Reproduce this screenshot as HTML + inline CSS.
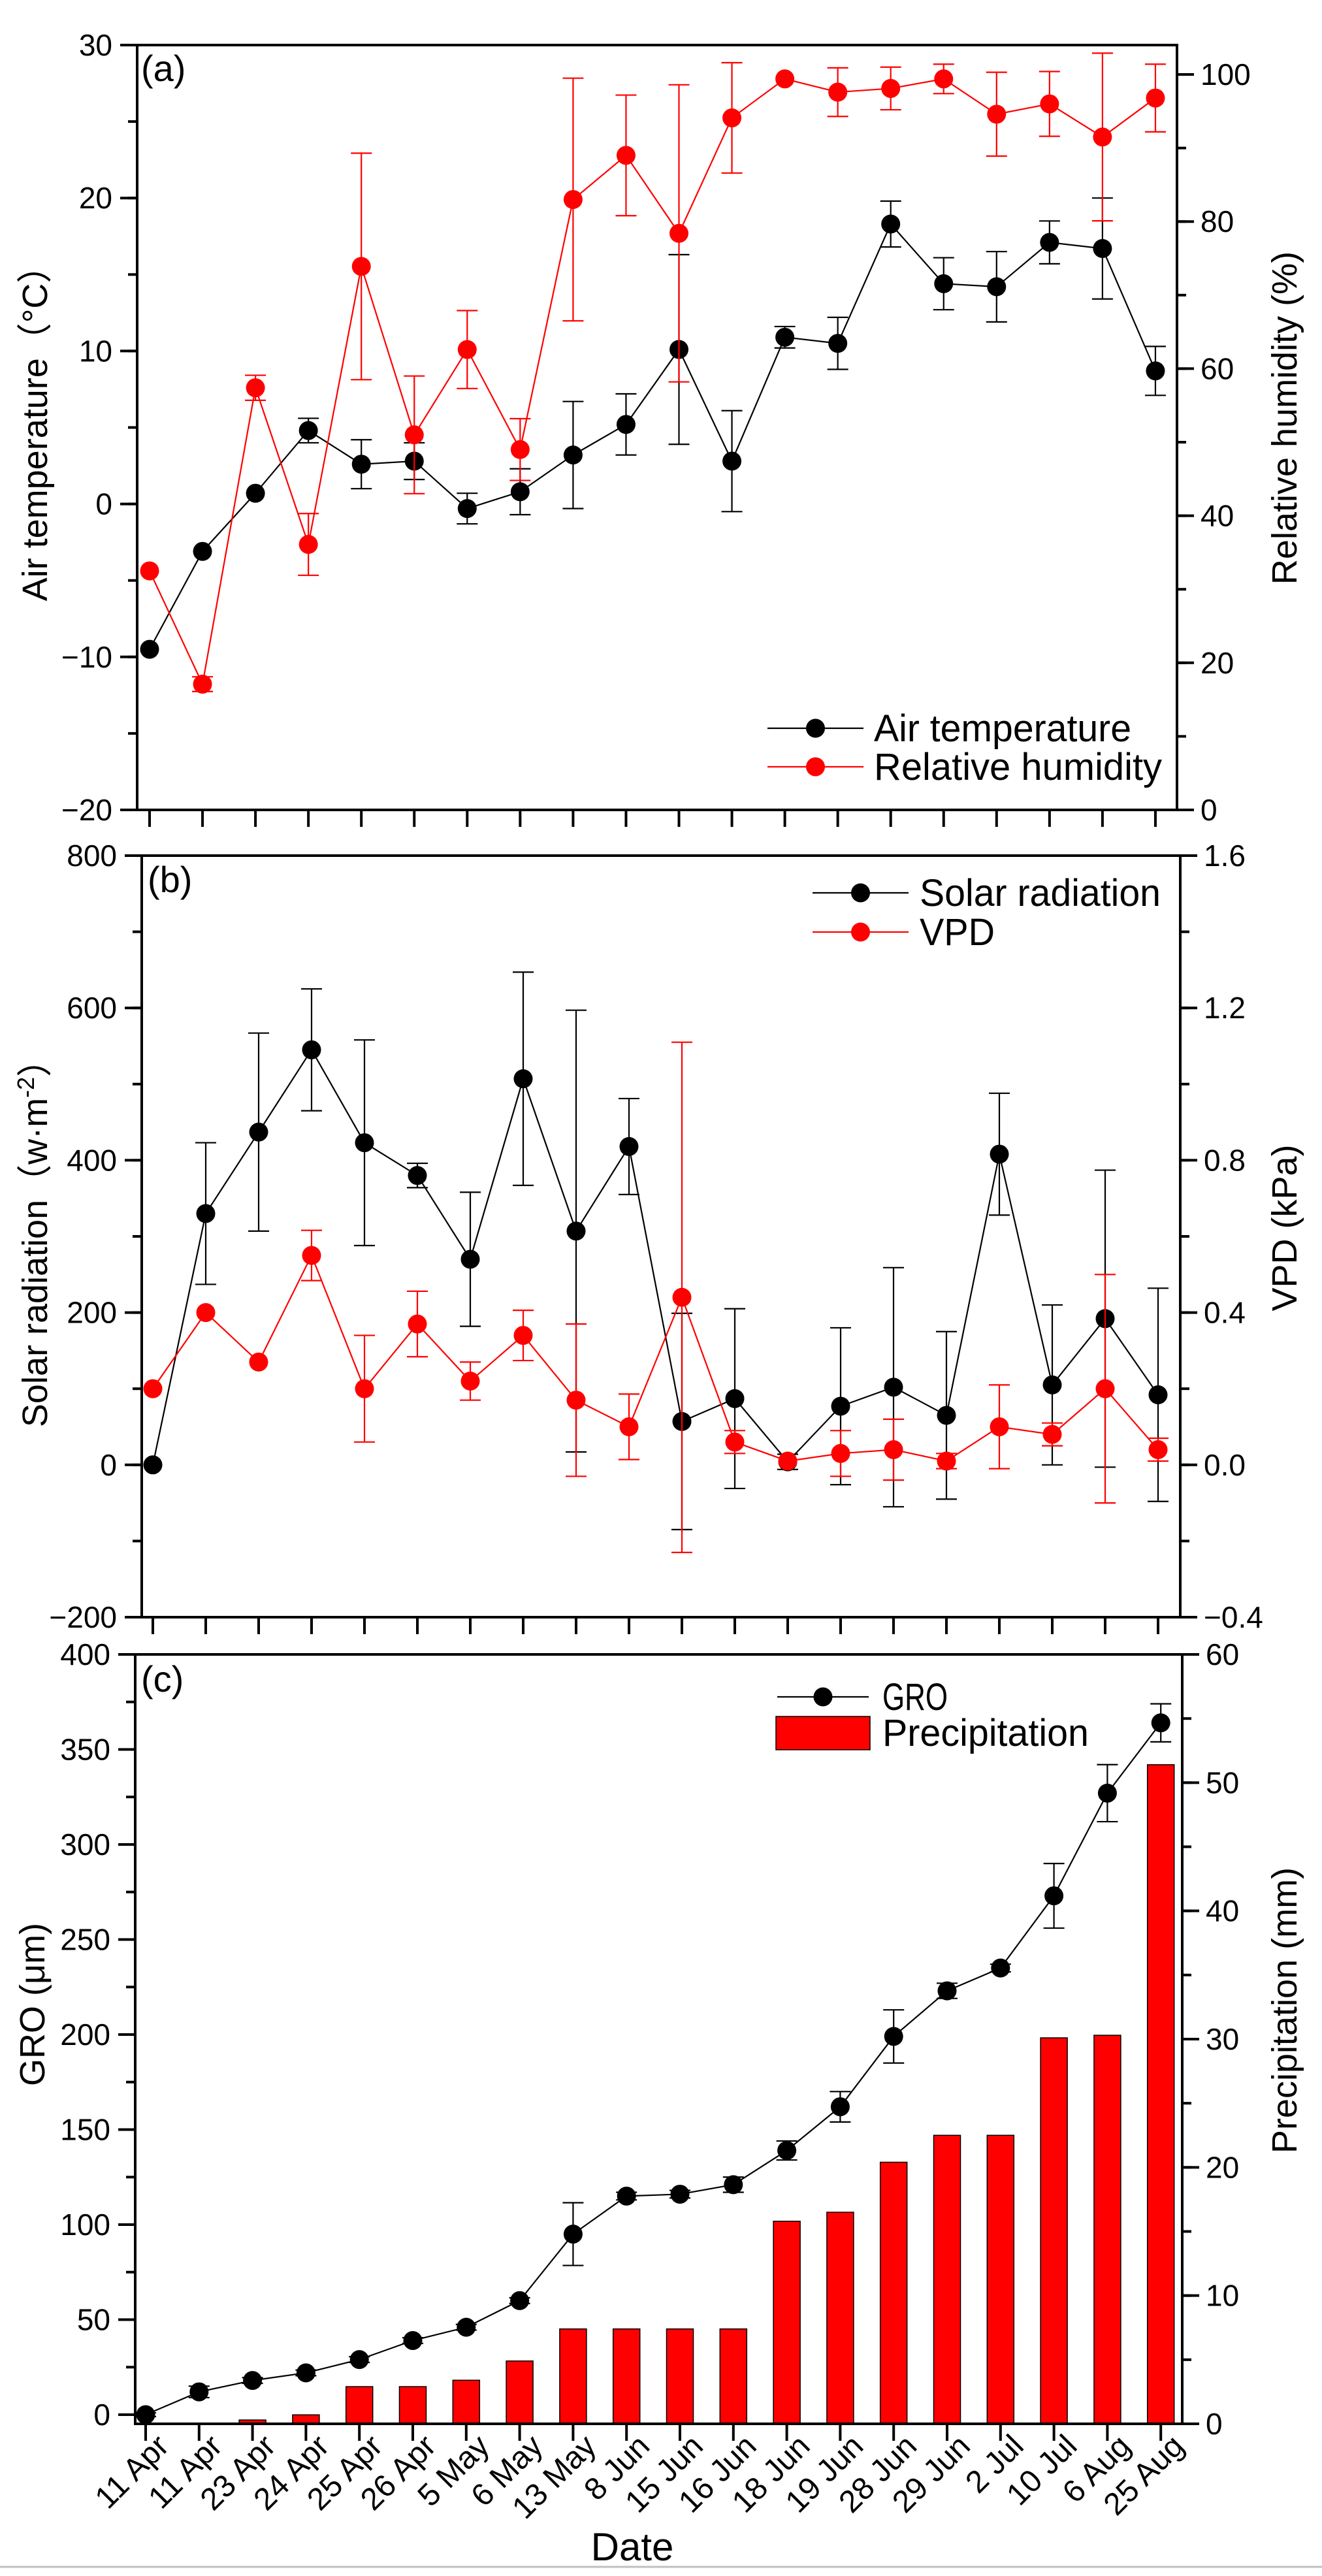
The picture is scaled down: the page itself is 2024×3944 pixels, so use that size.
<!DOCTYPE html>
<html><head><meta charset="utf-8">
<style>
html,body{margin:0;padding:0;background:#fff;}
svg{display:block;font-family:"Liberation Sans",Arial,sans-serif;}
</style></head>
<body>
<svg id="chart" xmlns="http://www.w3.org/2000/svg" width="2024" height="3944" viewBox="0 0 2024 3944">
<rect x="0" y="0" width="2024" height="3944" fill="#fff"/>
<line x1="0" y1="3930" x2="2024" y2="3930" stroke="#c0c0c0" stroke-width="3"/>
</svg>
<script>
const dates=["11 Apr","11 Apr","23 Apr","24 Apr","25 Apr","26 Apr","5 May","6 May","13 May","8 Jun","15 Jun","16 Jun","18 Jun","19 Jun","28 Jun","29 Jun","2 Jul","10 Jul","6 Aug","25 Aug"];
const tempVals=[-9.5,-3.1,0.7,4.8,2.6,2.8,-0.3,0.8,3.2,5.2,10.1,2.8,10.9,10.5,18.3,14.4,14.2,17.1,16.7,8.7];
const tempErr=[0,0,0,0.8,1.6,1.2,1.0,1.5,3.5,2.0,6.2,3.3,0.7,1.7,1.5,1.7,2.3,1.4,3.3,1.6];
const rhVals=[32.5,17.1,57.4,36.1,73.9,51.0,62.6,49.0,83.0,89.0,78.4,94.1,99.4,97.6,98.1,99.4,94.6,96.0,91.5,96.8];
const rhErr=[0,1,1.7,4.2,15.4,8.0,5.3,4.2,16.5,8.2,20.2,7.5,0,3.3,2.9,2.0,5.7,4.4,11.4,4.6];
const solarVals=[0,330,437,545,423,380,270,507,307,418,57,87,4,77,102,65,408,105,192,92];
const solarErr=[0,93,130,80,135,16,88,140,290,63,142,118,10,103,157,110,80,105,195,140];
const vpdVals=[0.20,0.40,0.27,0.55,0.20,0.37,0.22,0.34,0.17,0.10,0.44,0.06,0.01,0.03,0.04,0.01,0.10,0.08,0.20,0.04];
const vpdErr=[0,0,0,0.066,0.14,0.086,0.05,0.066,0.2,0.086,0.67,0.03,0,0.06,0.08,0.02,0.11,0.03,0.3,0.03];
const groVals=[0,12,18,22,29,39,46,60,95,115,116,121,139,162,199,223,235,273,327,364];
const groErr=[1,3,1.5,1.5,1.5,1.5,1.5,1.5,16.5,2,2,4,5,8,14,4,2,17,15,10];
const precipVals=[0,0,0.3,0.7,2.9,2.9,3.4,4.9,7.4,7.4,7.4,7.4,15.8,16.5,20.4,22.5,22.5,30.1,30.3,51.4];
const tempTicks=[-20,-10,0,10,20,30];
const rhTicks=[0,20,40,60,80,100];
const solarTicks=[-200,0,200,400,600,800];
const vpdTicks=[-0.4,0.0,0.4,0.8,1.2,1.6];
const groTicks=[0,50,100,150,200,250,300,350,400];
const precipTicks=[0,10,20,30,40,50,60];

const NS="http://www.w3.org/2000/svg";
const svg=document.getElementById("chart");
function mk(tag,attrs,parent){const e=document.createElementNS(NS,tag);for(const k in attrs)e.setAttribute(k,attrs[k]);(parent||svg).appendChild(e);return e;}
function fmt(v,d){const s=v.toFixed(d);return v<0?"\u2212"+s.slice(1):s;}

const xa=i=>229+i*81.05, xb=i=>234+i*81.0, xc=i=>223+i*81.8;
const yaT=v=>1240-(v+20)/50*1171;
const yaR=v=>1240-v/104*1171;
const ybS=v=>2476-(v+200)/1000*1166;
const ybV=v=>2476-(v+0.4)/2*1166;
const ycG=v=>3697-v/50*145.5;
const ycP=v=>3711-v/60*1178;

function frame(name,L,R,T,B){
  const g=mk("g",{});
  
  
  mk("rect",{x:L,y:T,width:R-L,height:B-T,fill:"none",stroke:"#000","stroke-width":4},g);
  return g;
}
function yAxis(name,ticks,scale,x,side,minorStep,dec,lo,hi){
  const g=mk("g",{});
  
  
  const dir=side==="left"?-1:1;
  for(let v=lo;v<=hi+1e-9;v+=minorStep){
    const y=scale(v);
    mk("line",{x1:x,y1:y,x2:x+dir*14,y2:y,stroke:"#000","stroke-width":4},g);
  }
  ticks.forEach(v=>{
    const y=scale(v);
    mk("line",{x1:x,y1:y,x2:x+dir*26,y2:y,stroke:"#000","stroke-width":4},g);
    const t=mk("text",{x:side==="left"?x-38:x+36,y:y+16,"font-size":46,"text-anchor":side==="left"?"end":"start",fill:"#000"},g);
    
    
    t.textContent=fmt(v,dec);
  });
}
function xTicks(name,xf,yB){
  const g=mk("g",{});
  
  
  dates.forEach((d,i)=>{mk("line",{x1:xf(i),y1:yB,x2:xf(i),y2:yB+26,stroke:"#000","stroke-width":4},g);});
  return g;
}
function series(name,vals,errs,xf,yf,color){
  const g=mk("g",{});
  
  
  const pts=vals.map((v,i)=>xf(i)+","+yf(v)).join(" ");
  const pl=mk("polyline",{points:pts,fill:"none",stroke:color,"stroke-width":2.2},g);
  
  
  vals.forEach((v,i)=>{
    const e=errs[i];
    if(e>0){
      const x=xf(i),y1=yf(v+e),y2=yf(v-e);
      const eg=mk("g",{stroke:color,"stroke-width":2.2},g);
      
      
      mk("line",{x1:x,y1:y1,x2:x,y2:y2},eg);
      mk("line",{x1:x-16,y1:y1,x2:x+16,y2:y1},eg);
      mk("line",{x1:x-16,y1:y2,x2:x+16,y2:y2},eg);
    }
  });
  vals.forEach((v,i)=>{
    const c=mk("circle",{cx:xf(i),cy:yf(v),r:14.5,fill:color},g);
    
    
  });
}
function text(name,str,x,y,size,opts){
  const t=mk("text",Object.assign({x:x,y:y,"font-size":size,fill:"#000"},opts||{}));
  
  
  t.textContent=str;
  return t;
}
function legendLine(name,x1,x2,y,color,label,tx,tw,size){
  const g=mk("g",{});
  
  
  mk("line",{x1:x1,y1:y,x2:x2,y2:y,stroke:color,"stroke-width":2.2},g);
  mk("circle",{cx:(x1+x2)/2,cy:y,r:14.5,fill:color},g);
  const t=mk("text",{x:tx,y:y+20,"font-size":size,textLength:tw,lengthAdjust:"spacingAndGlyphs",fill:"#000"},g);
  t.textContent=label;
}

// ===== Panel A =====
frame("panel-a",210,1802,69,1240);
yAxis("temp-axis",tempTicks,yaT,210,"left",5,0,-20,30);
yAxis("rh-axis",rhTicks,yaR,1802,"right",10,0,0,100);
xTicks("panel-a-x-ticks",xa,1240);
series("air-temperature",tempVals,tempErr,xa,yaT,"#000");
series("relative-humidity",rhVals,rhErr,xa,yaR,"#ff0000");
text("panel-a-label","(a)",216,124,56);
text("temp-axis-title","Air temperature（°C）",0,0,54,{transform:"translate(72,650) rotate(-90)","text-anchor":"middle"});
text("rh-axis-title","Relative humidity (%)",0,0,54,{transform:"translate(1985,640) rotate(-90)","text-anchor":"middle"});
legendLine("legend-air-temperature",1175,1322,1115,"#000","Air temperature",1338,394,58);
legendLine("legend-relative-humidity",1175,1322,1174,"#ff0000","Relative humidity",1338,441,58);

// ===== Panel B =====
frame("panel-b",217,1807,1310,2476);
yAxis("solar-axis",solarTicks,ybS,217,"left",100,0,-200,800);
yAxis("vpd-axis",vpdTicks,ybV,1807,"right",0.2,1,-0.4,1.6);
xTicks("panel-b-x-ticks",xb,2476);
series("solar-radiation",solarVals,solarErr,xb,ybS,"#000");
series("vpd",vpdVals,vpdErr,xb,ybV,"#ff0000");
text("panel-b-label","(b)",226,1366,56);
const sl=text("solar-axis-title","Solar radiation（w·m",0,0,54,{transform:"translate(72,1890) rotate(-90)","text-anchor":"middle"});
const sup=mk("tspan",{"font-size":36,dy:-20},sl);sup.textContent="-2";
const sup2=mk("tspan",{"font-size":54,dy:20},sl);sup2.textContent="）";
text("vpd-axis-title","VPD (kPa)",0,0,54,{transform:"translate(1985,1880) rotate(-90)","text-anchor":"middle"});
legendLine("legend-solar-radiation",1244,1391,1367,"#000","Solar radiation",1408,369,58);
legendLine("legend-vpd",1244,1391,1427,"#ff0000","VPD",1408,115,58);

// ===== Panel C =====
frame("panel-c",207,1810,2533,3711);
const bw=41;
precipVals.forEach((v,i)=>{
  if(v<=0)return;
  const r=mk("rect",{x:xc(i)-bw/2,y:ycP(v),width:bw,height:ycP(0)-ycP(v),fill:"#ff0000",stroke:"#000","stroke-width":1.5});
  
  
});
yAxis("gro-axis",groTicks,ycG,207,"left",25,0,0,400);
yAxis("precip-axis",precipTicks,ycP,1810,"right",5,0,0,60);
mk("rect",{x:207,y:2533,width:1603,height:1178,fill:"none",stroke:"#000","stroke-width":4});
xTicks("panel-c-x-ticks",xc,3711);
series("gro",groVals,groErr,xc,ycG,"#000");
text("panel-c-label","(c)",216,2590,56);
text("gro-axis-title","GRO (μm)",0,0,54,{transform:"translate(68,3069) rotate(-90)","text-anchor":"middle"});
text("precip-axis-title","Precipitation (mm)",0,0,54,{transform:"translate(1985,3078) rotate(-90)","text-anchor":"middle"});
legendLine("legend-gro",1190,1330,2598,"#000","GRO",1351,100,58);
const lg=mk("g",{});


mk("rect",{x:1188,y:2628,width:144,height:51,fill:"#ff0000",stroke:"#000","stroke-width":1.5},lg);
const lt=mk("text",{x:1351,y:2673,"font-size":58,textLength:316,lengthAdjust:"spacingAndGlyphs"},lg);
lt.textContent="Precipitation";
dates.forEach((d,i)=>{
  const x=xc(i)+38,y=3748;
  const t=mk("text",{x:0,y:0,"font-size":48,"text-anchor":"end",transform:`translate(${x},${y}) rotate(-45)`});
  
  
  t.textContent=d;
});
text("x-axis-title","Date",968,3920,60,{"text-anchor":"middle"});
</script>
</body></html>
